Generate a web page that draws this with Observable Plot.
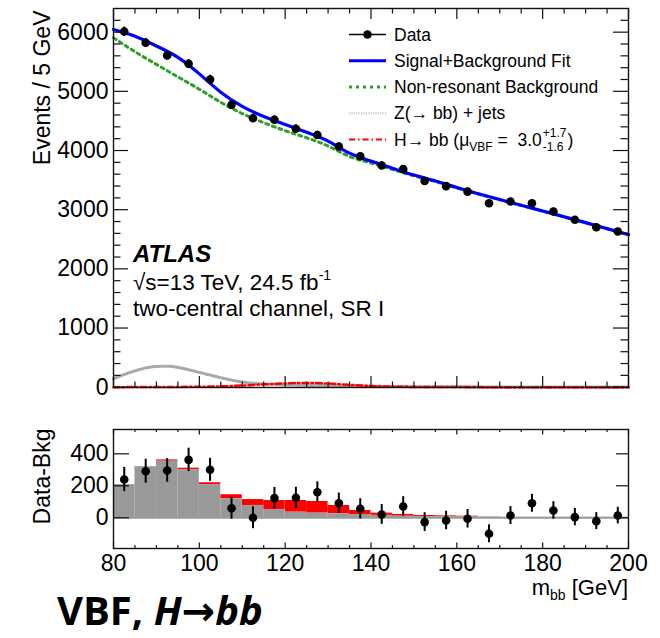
<!DOCTYPE html>
<html>
<head>
<meta charset="utf-8">
<script src="https://cdn.jsdelivr.net/npm/d3@7"></script>
<script src="https://cdn.jsdelivr.net/npm/@observablehq/plot@0.6"></script>
<style>
  html, body { margin: 0; padding: 0; background: #fff; }
  #chart { position: relative; width: 660px; height: 638px; overflow: hidden; background: #fff; }
  #chart svg { position: absolute; left: 0; display: block; }
  #title { position: absolute; left: 57px; top: 590px; font-family: "Open Sans", "DejaVu Sans", sans-serif;
           font-weight: 700; font-size: 40px; line-height: 40px; white-space: nowrap; color: #000; }
</style>
</head>
<body>
<div id="chart"></div>
<script>
// m_bb bin centres (5 GeV bins, 80-200 GeV)
const massCenters = [82.5, 87.5, 92.5, 97.5, 102.5, 107.5, 112.5, 117.5, 122.5, 127.5, 132.5, 137.5,
                     142.5, 147.5, 152.5, 157.5, 162.5, 167.5, 172.5, 177.5, 182.5, 187.5, 192.5, 197.5];
// observed events per bin and their uncertainties
const events   = [6010, 5820, 5606, 5465, 5200, 4772, 4546, 4519, 4367, 4262, 4068, 3902,
                  3747, 3685, 3485, 3398, 3305, 3110, 3138, 3110, 2969, 2829, 2704, 2631];
const eventErr = [76, 75, 74, 73, 72, 69, 68, 67, 66, 65, 64, 63,
                  62, 61, 59, 58, 58, 56, 56, 56, 55, 54, 53, 52];
// data minus non-resonant background
const dataMinusBkg = [239, 291, 296, 362, 300, 60, 0, 123, 125, 160, 91, 56,
                      21, 71, -27, -17, -6, -100, 14, 91, 46, 4, -21, 14];
// fitted Z+jets contribution and Z+jets + H contribution per bin
const zHist      = [206, 318, 354, 300, 206, 119, 77, 52, 35, 29, 25, 20, 15, 10, 7, 6, 5, 4, 3, 3, 3, 3, 3, 3];
const zPlusHHist = [208, 320, 362, 310, 219, 144, 114, 108, 108, 102, 77, 46, 29, 21, 14, 12, 10, 5, 3, 3, 3, 3, 3, 3];

// fit curves
const fitMass    = [80, 85, 90, 95, 100, 105, 110, 115, 120, 125, 130, 135, 140,
                    145, 150, 155, 160, 165, 170, 175, 180, 185, 190, 195, 200];
const sigPlusBkg = [6045, 5930, 5766, 5575, 5295, 4985, 4745, 4575, 4440, 4310, 4160, 3955, 3822,
                    3700, 3585, 3485, 3375, 3270, 3172, 3074, 2978, 2880, 2782, 2680, 2578];
const nonResBkg  = [5905, 5670, 5455, 5245, 5035, 4815, 4625, 4470, 4335, 4215, 4075, 3900, 3788,
                    3680, 3572, 3476, 3368, 3265, 3168, 3071, 2975, 2877, 2780, 2678, 2576];
const zMass  = [80, 82.5, 85, 87.5, 90, 92.5, 95, 97.5, 100, 102.5, 105, 107.5, 110, 112.5, 115, 117.5,
                120, 125, 130, 135, 140, 145, 150, 160, 170, 180, 190, 200];
const zJets  = [142, 215, 275, 325, 350, 355, 335, 295, 250, 205, 160, 120, 88, 68, 55, 47,
                40, 32, 26, 21, 16, 12, 9, 6, 4, 3, 2, 2];
const hMass  = [80, 90, 100, 105, 110, 115, 120, 125, 130, 135, 140, 145, 150, 160, 170, 185, 200];
const hbb    = [1, 3, 8, 14, 28, 48, 64, 72, 62, 40, 20, 10, 5, 2, 1, 0, 0];

// axis ticks
const xMajor = [80, 100, 120, 140, 160, 180, 200];
const xMinor = d3.range(85, 200, 5).filter(v => v % 20 !== 0);
const yMajorTop = [0, 1000, 2000, 3000, 4000, 5000, 6000];
const yMinorTop = d3.range(200, 6400, 200).filter(v => v % 1000 !== 0);
const yMajorRatio = [0, 200, 400];

const FONT = '"Liberation Sans", Arial, Helvetica, sans-serif';
const points = massCenters.map((m, i) => ({
  m, n: events[i], err: eventErr[i], diff: dataMinusBkg[i], z: zHist[i], tot: zPlusHHist[i]
}));
const toCurve = (xs, ys) => xs.map((m, i) => ({m, v: ys[i]}));

const W = 660, ML = 113, MR = 32;
const frameW = W - ML - MR;

// inward ROOT-style ticks on all four sides of a frame
function frameTicks(frameH, xMaj, xMin, xMajLen, xMinLen, yMaj, yMin, yMajLenL, yMinLenL, yMajLenR, yMinLenR) {
  const s = {stroke: "#111", strokeWidth: 1.2};
  const marks = [
    Plot.ruleX(xMaj, {x: d => d, insetTop: frameH - xMajLen, ...s}),
    Plot.ruleX(xMin, {x: d => d, insetTop: frameH - xMinLen, ...s}),
    Plot.ruleX(xMaj, {x: d => d, insetBottom: frameH - xMajLen, ...s}),
    Plot.ruleX(xMin, {x: d => d, insetBottom: frameH - xMinLen, ...s}),
    Plot.ruleY(yMaj, {y: d => d, insetRight: frameW - yMajLenL, ...s}),
    Plot.ruleY(yMaj, {y: d => d, insetLeft: frameW - yMajLenR, ...s})
  ];
  if (yMin.length) {
    marks.push(Plot.ruleY(yMin, {y: d => d, insetRight: frameW - yMinLenL, ...s}));
    marks.push(Plot.ruleY(yMin, {y: d => d, insetLeft: frameW - yMinLenR, ...s}));
  }
  return marks;
}

// ---- main panel ----
const topH = 398, topMT = 8, topMB = 11;
const topPlot = Plot.plot({
  width: W, height: topH,
  marginLeft: ML, marginRight: MR, marginTop: topMT, marginBottom: topMB,
  x: {domain: [80, 200], axis: null},
  y: {domain: [-5, 6400]},
  style: {fontFamily: FONT, fontSize: "23px", color: "#000", background: "transparent", overflow: "visible"},
  marks: [
    Plot.line(toCurve(zMass, zJets), {x: "m", y: "v", stroke: "#a8a8a8", strokeWidth: 3, strokeDasharray: "1,1.4", curve: "monotone-x"}),
    Plot.line(toCurve(hMass, hbb), {x: "m", y: "v", stroke: "#ff0000", strokeWidth: 2.5, strokeDasharray: "6,3,1.5,3", curve: "monotone-x"}),
    Plot.line(toCurve(fitMass, nonResBkg), {x: "m", y: "v", stroke: "#2f9e2f", strokeWidth: 3, strokeDasharray: "3,4", curve: "natural"}),
    Plot.line(toCurve(fitMass, sigPlusBkg), {x: "m", y: "v", stroke: "#0000ff", strokeWidth: 3.2, curve: "natural"}),
    Plot.ruleX(points, {x: "m", y1: d => d.n - d.err, y2: d => d.n + d.err, stroke: "#000", strokeWidth: 2}),
    Plot.dot(points, {x: "m", y: "n", r: 4.3, fill: "#000", stroke: "none"}),
    ...frameTicks(topH - topMT - topMB, xMajor, xMinor, 11, 5.5, yMajorTop, yMinorTop, 15, 7.5, 15, 7.5),
    Plot.frame({stroke: "#111", strokeWidth: 1.4}),
    Plot.axisY(yMajorTop, {tickSize: 0, tickPadding: 5, tickFormat: d3.format("d"), label: null}),
    Plot.text(["Events / 5 GeV"], {text: d => d, frameAnchor: "top-left", rotate: -90, textAnchor: "end", dx: -80, dy: 2, fontSize: 23})
  ]
});

// ---- Data - Bkg panel ----
const botH = 202, botMT = 31, botMB = 52;
const botPlot = Plot.plot({
  width: W, height: botH,
  marginLeft: ML, marginRight: MR, marginTop: botMT, marginBottom: botMB,
  x: {domain: [80, 200]},
  y: {domain: [-192, 552]},
  style: {fontFamily: FONT, fontSize: "23px", color: "#000", background: "transparent", overflow: "visible"},
  marks: [
    Plot.rect(points, {x1: d => d.m - 2.5, x2: d => d.m + 2.5, y1: "z", y2: "tot", fill: "#ff0000"}),
    Plot.rect(points, {x1: d => d.m - 2.5, x2: d => d.m + 2.5, y1: 0, y2: "z", fill: "#999999"}),
    Plot.ruleY([0], {stroke: "#9a9a9a", strokeWidth: 2}),
    Plot.ruleX(points, {x: "m", y1: d => d.diff - d.err, y2: d => d.diff + d.err, stroke: "#000", strokeWidth: 2}),
    Plot.dot(points, {x: "m", y: "diff", r: 4.3, fill: "#000", stroke: "none"}),
    ...frameTicks(botH - botMT - botMB, xMajor, xMinor, 5.5, 3, yMajorRatio, [], 16, 0, 12, 0),
    Plot.frame({stroke: "#111", strokeWidth: 1.4}),
    Plot.axisY(yMajorRatio, {tickSize: 0, tickPadding: 5, tickFormat: d3.format("d"), label: null}),
    Plot.axisX(xMajor, {tickSize: 0, tickPadding: 6, tickFormat: d3.format("d"), label: null}),
    Plot.text(["Data-Bkg"], {text: d => d, frameAnchor: "top-left", rotate: -90, textAnchor: "end", dx: -80, dy: -1, fontSize: 23})
  ]
});

const chart = document.getElementById("chart");
topPlot.style.top = "0px";
botPlot.style.top = topH + "px";
chart.appendChild(topPlot);
chart.appendChild(botPlot);

// ---- legend ----
const st = d3.select(topPlot);
const leg = st.append("g").attr("font-family", FONT).attr("font-size", 17.5).attr("fill", "#000").attr("text-anchor", "start");
const rowY = i => 34.5 + i * 26.25;
const sx1 = 349, sx2 = 386, tx = 394;
leg.append("line").attr("x1", sx1).attr("x2", sx2).attr("y1", rowY(0)).attr("y2", rowY(0)).attr("stroke", "#000").attr("stroke-width", 1.6);
leg.append("circle").attr("cx", (sx1 + sx2) / 2).attr("cy", rowY(0)).attr("r", 4.3).attr("fill", "#000");
leg.append("line").attr("x1", sx1).attr("x2", sx2).attr("y1", rowY(1)).attr("y2", rowY(1)).attr("stroke", "#0000ff").attr("stroke-width", 3.2);
leg.append("line").attr("x1", sx1).attr("x2", sx2).attr("y1", rowY(2)).attr("y2", rowY(2)).attr("stroke", "#2f9e2f").attr("stroke-width", 3).attr("stroke-dasharray", "3,4");
leg.append("line").attr("x1", sx1).attr("x2", sx2).attr("y1", rowY(3)).attr("y2", rowY(3)).attr("stroke", "#c4c4c4").attr("stroke-width", 2).attr("stroke-dasharray", "1.2,1.2");
leg.append("line").attr("x1", sx1).attr("x2", sx2).attr("y1", rowY(4)).attr("y2", rowY(4)).attr("stroke", "#ff0000").attr("stroke-width", 2.2).attr("stroke-dasharray", "6,3,1.5,3");
["Data", "Signal+Background Fit", "Non-resonant Background", "Z(\u2192 bb) + jets"].forEach((s, i) => {
  leg.append("text").attr("x", tx).attr("y", rowY(i) + 6.2).text(s);
});
const hy = rowY(4) + 6.2;
const ht = leg.append("text").attr("x", tx).attr("y", hy);
ht.append("tspan").text("H\u2192 bb (\u03bc");
ht.append("tspan").attr("font-size", 12).attr("dy", 5).text("VBF");
ht.append("tspan").attr("dy", -5).text(" =\u00a0 3.0");
const hw = ht.node().getComputedTextLength();
const sup = leg.append("text").attr("x", tx + hw + 1).attr("y", hy - 9).attr("font-size", 12).text("+1.7");
leg.append("text").attr("x", tx + hw + 1).attr("y", hy + 5).attr("font-size", 12).text("-1.6");
leg.append("text").attr("x", tx + hw + 2 + sup.node().getComputedTextLength()).attr("y", hy).text(")");

// ---- ATLAS label ----
const lab = st.append("g").attr("font-family", FONT).attr("fill", "#000").attr("text-anchor", "start");
lab.append("text").attr("x", 133).attr("y", 262).attr("font-size", 24).attr("font-weight", "bold").attr("font-style", "italic").text("ATLAS");
const en = lab.append("text").attr("x", 133).attr("y", 290).attr("font-size", 22.5);
en.append("tspan").text("\u221as=13 TeV, 24.5 fb");
en.append("tspan").attr("font-size", 14).attr("dy", -10).text("-1");
lab.append("text").attr("x", 133).attr("y", 316).attr("font-size", 22.5).text("two-central channel, SR I");

// ---- x axis title ----
const sbt = d3.select(botPlot);
const xt = sbt.append("text").attr("x", W - MR).attr("y", 197).attr("text-anchor", "end")
  .attr("font-family", FONT).attr("font-size", 22).attr("fill", "#000");
xt.append("tspan").text("m");
xt.append("tspan").attr("font-size", 14).attr("dy", 5).text("bb");
xt.append("tspan").attr("dy", -5).text(" [GeV]");

// ---- headline ----
const title = document.createElement("div");
title.id = "title";
title.innerHTML = "VBF, <i>H\u2192bb</i>";
chart.appendChild(title);
</script>
</body>
</html>
